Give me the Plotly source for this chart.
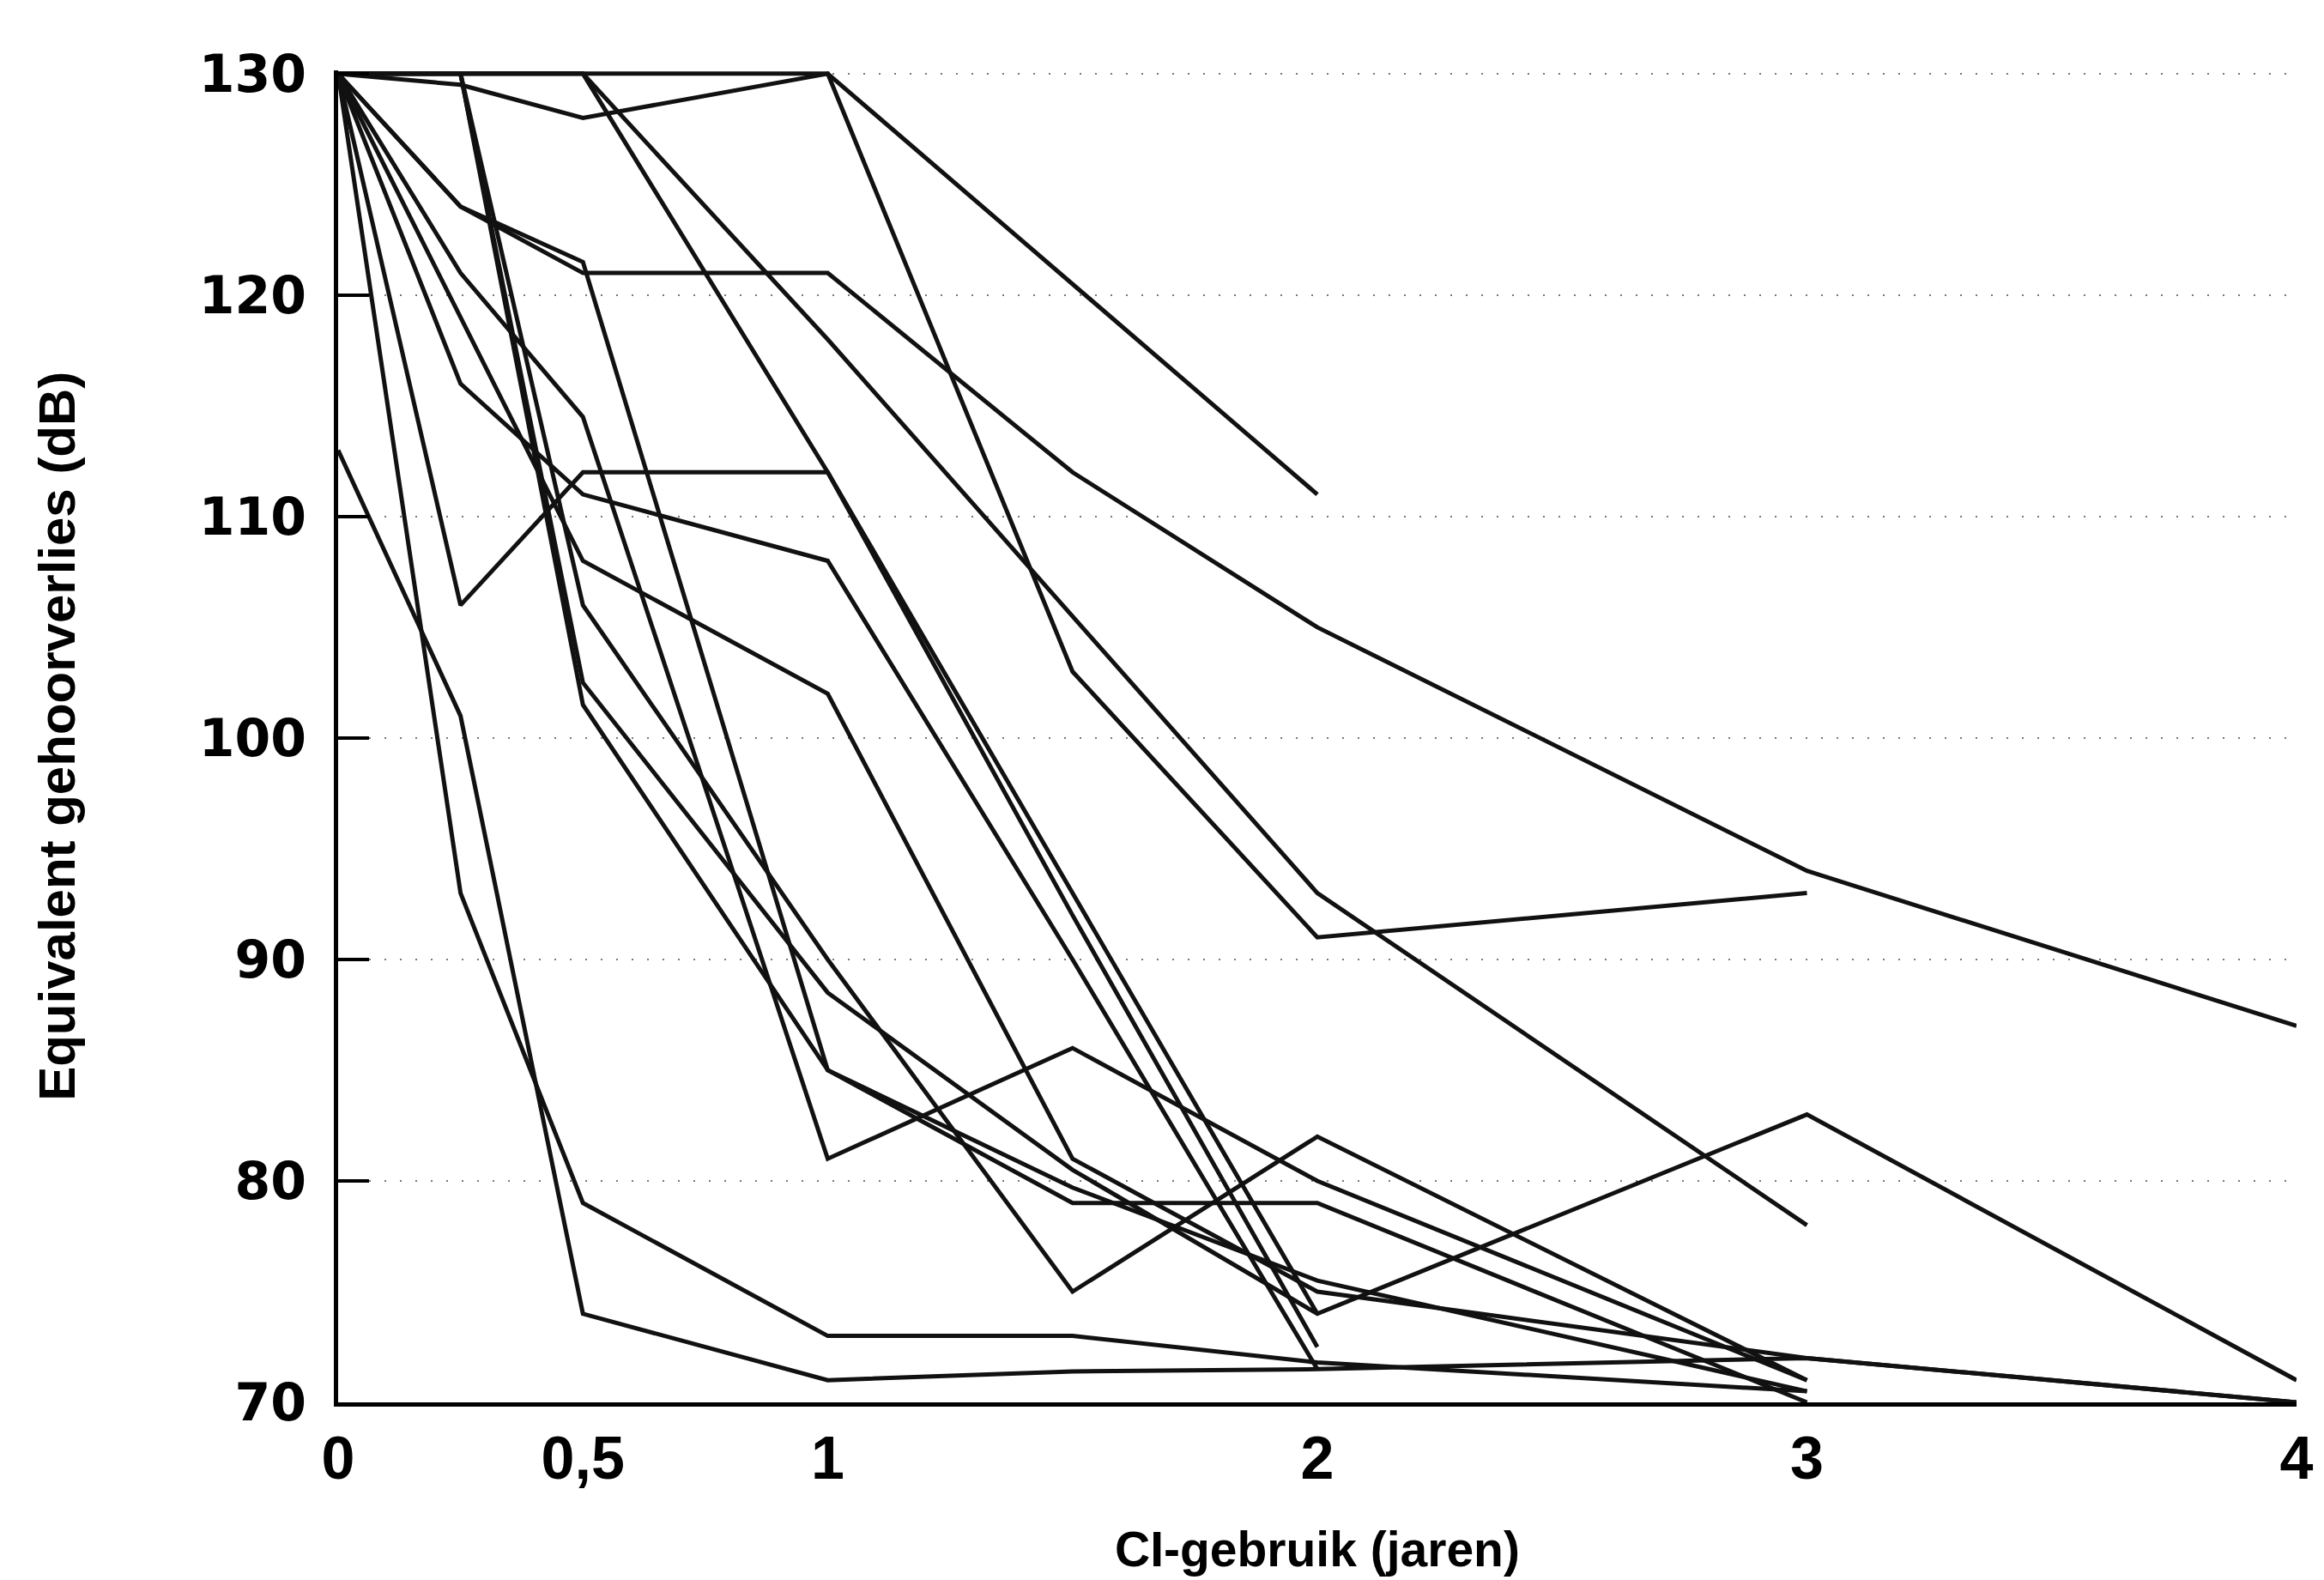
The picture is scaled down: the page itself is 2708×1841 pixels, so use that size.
import plotly.graph_objects as go

# Measurement moments (years of CI use)
years = [0, 0.25, 0.5, 1, 1.5, 2, 3, 4]

# Equivalent hearing loss per child (dB); None = no measurement at that moment
p01 = [130, 129.5, 128, 130, None, 111, None, None]
p02 = [130, None, 130, 130, 103, 91, 93, None]
p03 = [130, 124, 121, 121, 112, 105, 94, 87]
p04 = [130, None, 130, 118, 105.5, 93, 78, None]
p05 = [130, None, 130, 112, 93, 74, None, None]
p06 = [130, 106, 112, 112, 92, 72.5, None, None]
p07 = [113, 101, 74, 71, 71.4, 71.5, 72, 70]
p08 = [130, 93, 79, 73, 73, 71.8, 70.5, None]
p09 = [130, 116, 111, 108, 90, 71.5, None, None]
p10 = [130, 121, 114.5, 81, 86, 80, 71, None]
p11 = [130, None, 108, 102, 81, 75, 72, 70]
p12 = [130, 124, 121.5, 85, 79.7, 75.5, 70.5, None]
p13 = [130, 130, 101.5, 85, 79, 79, 70, None]
p14 = [130, 130, 102.5, 88.5, 80.5, 74, 83, 71]
p15 = [130, 130, 106, 90, 75, 82, 71, None]

patients = [p01, p02, p03, p04, p05, p06, p07, p08,
            p09, p10, p11, p12, p13, p14, p15]

x_tickvals = [0, 0.5, 1, 2, 3, 4]
x_ticktext = ["0", "0,5", "1", "2", "3", "4"]
y_tickvals = [70, 80, 90, 100, 110, 120, 130]

fig = go.Figure()
for values in patients:
    fig.add_trace(go.Scatter(
        x=years, y=values, mode="lines", connectgaps=True,
        line=dict(color="#111111", width=5),
        showlegend=False, hoverinfo="skip",
    ))

label_font = "Liberation Sans, Arial, sans-serif"
wide_font = "DejaVu Sans, Verdana, sans-serif"

fig.update_layout(
    width=2708, height=1841,
    margin=dict(l=394, r=26, t=82, b=207),
    paper_bgcolor="white", plot_bgcolor="white",
    showlegend=False,
    xaxis=dict(
        range=[0, 4],
        tickvals=x_tickvals, ticktext=x_ticktext,
        ticks="", showgrid=False, zeroline=False,
        showline=True, linecolor="black", linewidth=5,
        tickfont=dict(family=label_font, size=70, color="black", weight="bold"),
        ticklabelstandoff=0,
    ),
    yaxis=dict(
        range=[70, 130.15],
        tickvals=y_tickvals,
        ticks="inside", ticklen=36, tickwidth=4, tickcolor="black",
        showgrid=True, gridcolor="#777777", griddash="2px,16px", gridwidth=2,
        zeroline=False,
        showline=True, linecolor="black", linewidth=5,
        tickfont=dict(family=wide_font, size=60, color="black", weight="bold"),
        ticklabelstandoff=20,
    ),
    annotations=[
        dict(text="CI-gebruik (jaren)", xref="paper", yref="paper",
             x=0.5, y=-0.110, xanchor="center", yanchor="middle",
             showarrow=False,
             font=dict(family=label_font, size=57, color="black", weight="bold")),
        dict(text="Equivalent gehoorverlies (dB)", xref="paper", yref="paper",
             x=-0.1438, y=0.5, xanchor="center", yanchor="middle",
             textangle=-90, showarrow=False,
             font=dict(family=label_font, size=60, color="black", weight="bold")),
    ],
)

fig.write_html("out.html")
